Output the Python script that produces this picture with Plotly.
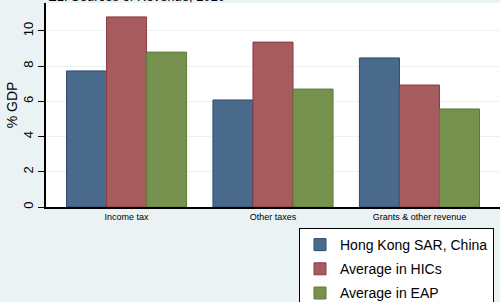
import plotly.graph_objects as go

categories = ["Income tax", "Other taxes", "Grants & other revenue"]
series_names = ["Hong Kong SAR, China", "Average in HICs", "Average in EAP"]
hk_values = [7.73, 6.08, 8.47]
hic_values = [10.8, 9.37, 6.93]
eap_values = [8.8, 6.7, 5.57]
y_ticks = [0, 2, 4, 6, 8, 10]
title_text = "E1. Sources of Revenue, 2010"

fills = ["#4A6A8C", "#A65B5F", "#77924F"]
lines = ["#2C4A6E", "#8E3A40", "#5C7A36"]

fig = go.Figure()
for i, (name, vals, fc, lc) in enumerate(zip(series_names, [hk_values, hic_values, eap_values], fills, lines)):
    fig.add_trace(go.Bar(
        x=categories, y=vals, name=name, legendgroup=f"g{i}",
        marker=dict(color=fc, line=dict(color=lc, width=1)),
    ))

bg = "#EAF2F3"
font = "Liberation Sans, Arial, Helvetica, sans-serif"
fig.update_layout(
    width=500, height=302,
    margin=dict(l=46, r=0, t=3, b=95, autoexpand=False),
    paper_bgcolor=bg, plot_bgcolor="white",
    barmode="group", bargap=0.18, bargroupgap=0,
    font=dict(family=font, color="black"),
    showlegend=True,
    legend=dict(
        xref="container", yref="container",
        x=0.598, y=0.245, xanchor="left", yanchor="top",
        bgcolor="white", bordercolor="black", borderwidth=1,
        font=dict(size=14, family=font),
        itemwidth=30, tracegroupgap=3,
    ),
    xaxis=dict(
        range=[-0.55, 2.55], showline=True, linecolor="black", linewidth=1.5,
        ticks="", tickfont=dict(size=9), showgrid=False,
    ),
    yaxis=dict(
        range=[0, 11.59], tickvals=y_ticks, ticks="outside", ticklen=6,
        tickcolor="black", showline=True, linecolor="black", linewidth=1.5,
        gridcolor=bg, gridwidth=1, zeroline=False,
        tickangle=-90, tickfont=dict(size=13),
        title=dict(text="% GDP", font=dict(size=14), standoff=0),
    ),
    annotations=[dict(
        text=title_text, xref="paper", yref="paper", x=0, y=1.0 + 3 / 204,
        xanchor="left", yanchor="bottom", showarrow=False,
        font=dict(size=13, family=font), yshift=-6,
    )],
)

fig.write_html(
    "out.html",
    config={"displayModeBar": False},
    post_script="document.body.style.margin='0';document.body.style.padding='0';document.body.style.overflow='hidden';",
)
